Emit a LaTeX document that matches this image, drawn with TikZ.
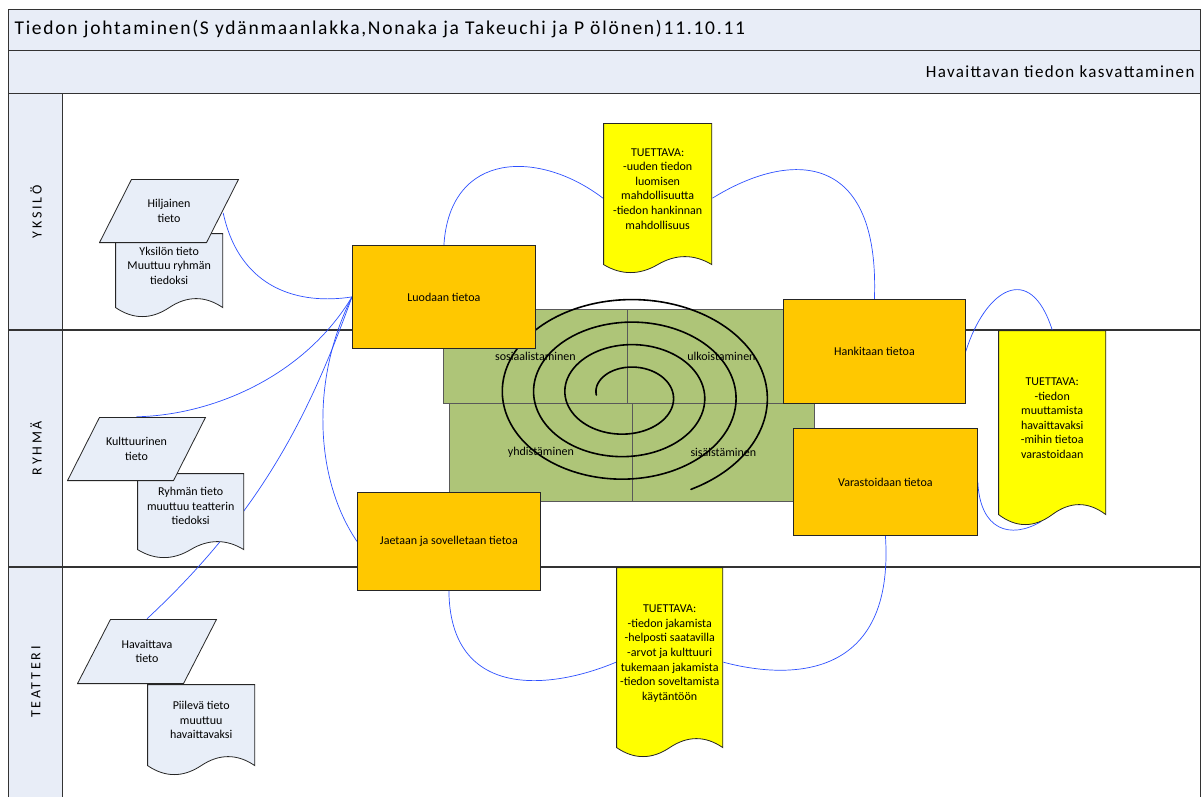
\documentclass[tikz,border=0pt]{standalone}
\usepackage{fontspec}
\setmainfont{Carlito}
\newfontfamily\titlefont[LetterSpace=9]{Carlito}
\newfontfamily\goalfont[LetterSpace=8]{Carlito}
\newfontfamily\lanefont[LetterSpace=20]{Carlito}
\usetikzlibrary{calc,backgrounds}
\definecolor{bandfill}{HTML}{E8EDF7}
\definecolor{paperfill}{HTML}{E8EEF8}
\definecolor{boxgold}{HTML}{FFC800}
\definecolor{notefill}{HTML}{FFFF00}
\definecolor{secigreen}{HTML}{AEC578}
\definecolor{linkblue}{HTML}{2E50FF}

\begin{document}
\begin{tikzpicture}[
  x=1pt,
  y=1pt,
  font=\fontsize{12}{14.6}\selectfont,
  band/.style={draw=black!80, line width=0.8pt, fill=bandfill},
  lane/.style={draw=black!80, line width=1.2pt},
  act/.style={draw=black!85, line width=0.8pt, fill=boxgold, inner sep=0pt, anchor=north west},
  quad/.style={draw=black!65, line width=0.8pt, fill=secigreen, inner sep=0pt, anchor=north west},
  knowl/.style={draw=none, inner sep=0pt, align=center,
    minimum width=140pt, minimum height=64pt,
    path picture={
      \path[draw=black!85, line width=0.8pt, fill=paperfill]
        let \p1=(path picture bounding box.north west),
            \p2=(path picture bounding box.south east)
        in (\x1+0.5pt+#1,\y1-0.4pt) -- (\x2-0.5pt,\y1-0.4pt)
        -- (\x2-0.5pt-#1,\y2+0.4pt) -- (\x1+0.5pt,\y2+0.4pt) -- cycle;
    }},
  paper/.style 2 args={draw=none, inner sep=0pt, align=center, anchor=north west,
    text depth=19pt,
    path picture={
      \path[draw=black!85, line width=0.8pt, fill=#1]
        let \p1=(path picture bounding box.north west),
            \p2=(path picture bounding box.south east)
        in (\x1+0.4pt,\y1-0.4pt) -- (\x2-0.4pt,\y1-0.4pt) -- (\x2-0.4pt,\y2+#2+0.6pt)
        .. controls ({\x2-(\x2-\x1)/6},{\y2+#2+0.6pt+4*#2/3}) and ({\x2-(\x2-\x1)/3},{\y2+#2+0.6pt+4*#2/3})
        .. ({(\x1+\x2)/2},{\y2+#2+0.6pt})
        .. controls ({\x1+(\x2-\x1)/3},{\y2+#2+0.6pt-4*#2/3}) and ({\x1+(\x2-\x1)/6},{\y2+#2+0.6pt-4*#2/3})
        .. (\x1+0.4pt,\y2+#2+0.6pt) -- cycle;
    }},
  link/.style={draw=linkblue, line width=0.7pt},
  spiral/.style={draw=black, line width=1.6pt, line cap=round},
]
  \useasboundingbox (0,0) rectangle (1202,-797);

  % frame: x of left edge, lane column, right edge; y of the band lines
  \def\xL{8}
  \def\xH{62}
  \def\xR{1200}
  \def\yT{9}
  \def\yA{50}
  \def\yB{93}
  \def\yC{330}
  \def\yD{567}
  \def\yE{805}

  \begin{pgfonlayer}{background}
    \path[band] (\xL,-\yT) rectangle (\xR,-\yA);
    \path[band] (\xL,-\yA) rectangle (\xR,-\yB);
    \path[band] (\xL,-\yB) rectangle (\xH,-\yE);
    \draw[band, fill=white] (\xH,-\yB) rectangle (\xR,-\yE);
    \draw[lane] (\xL,-\yC) -- (\xR,-\yC);
    \draw[lane] (\xL,-\yD) -- (\xR,-\yD);
  \end{pgfonlayer}

  \node[anchor=west, font=\titlefont\fontsize{19.5}{21}\selectfont] (title) at (11,-29.5)
    {Tiedon johtaminen(S ydänmaanlakka,Nonaka ja Takeuchi ja P ölönen)11.10.11};
  \node[anchor=east, font=\goalfont\fontsize{17}{20}\selectfont] (goal) at (1198,-72)
    {Havaittavan tiedon kasvattaminen};

  % lanes
  \node[rotate=90, font=\lanefont\fontsize{14}{16}\selectfont] (yksilo) at (36,-212) {YKSILÖ};
  \node[rotate=90, font=\lanefont\fontsize{14}{16}\selectfont] (ryhma) at (36,-448) {RYHMÄ};
  \node[rotate=90, font=\lanefont\fontsize{14}{16}\selectfont] (teatteri) at (36,-682) {TEATTERI};

  % knowledge forms on the left
  \node[paper={paperfill}{9pt}, minimum width=108pt, minimum height=84pt] (yks) at (115,-233)
    {Yksilön tieto\\Muuttuu ryhmän\\tiedoksi};
  \node[knowl=32pt] (hil) at (169,-211) {Hiljainen\\tieto};
  \node[paper={paperfill}{8pt}, minimum width=107pt, minimum height=85pt] (ryh) at (137,-473)
    {Ryhmän tieto\\muuttuu teatterin\\tiedoksi};
  \node[knowl=32pt, minimum width=139pt] (kul) at (136.5,-449) {Kulttuurinen\\tieto};
  \node[paper={paperfill}{9pt}, minimum width=108pt, minimum height=91pt] (pii) at (147,-684)
    {Piilevä tieto\\muuttuu\\havaittavaksi};
  \node[knowl=33pt, minimum height=65pt] (hav) at (147,-651.5) {Havaittava\\tieto};

  % SECI quadrants and spiral
  \node[quad, minimum width=184pt, minimum height=94pt] (sos) at (443,-309) {sosiaalistaminen};
  \node[quad, minimum width=188pt, minimum height=94pt] (ulk) at (627,-309) {ulkoistaminen};
  \node[quad, minimum width=183pt, minimum height=98pt] (yhd) at (449,-403) {yhdistäminen};
  \node[quad, minimum width=182pt, minimum height=98pt] (sis) at (632,-403) {sisäistäminen};
  \draw[spiral] plot[domain=180:1504, samples=320, smooth, variable=\t]
    ({627+(15+0.087*\t)*cos(\t)}, {-395-0.72*(15+0.087*\t)*sin(\t)});

  % activities
  \node[act, minimum width=183pt, minimum height=103pt] (luo) at (352,-245) {Luodaan tietoa};
  \node[act, minimum width=182pt, minimum height=104pt] (han) at (783,-299) {Hankitaan tietoa};
  \node[act, minimum width=184pt, minimum height=107pt] (var) at (793,-428) {Varastoidaan tietoa};
  \node[act, minimum width=183pt, minimum height=98pt] (jae) at (357,-492) {Jaetaan ja sovelletaan tietoa};

  % supporting notes
  \node[paper={notefill}{8pt}, minimum width=109pt, minimum height=150pt] (tu1) at (603,-123)
    {TUETTAVA:\\-uuden tiedon\\luomisen\\mahdollisuutta\\-tiedon hankinnan\\mahdollisuus};
  \node[paper={notefill}{10pt}, minimum width=108pt, minimum height=195pt] (tu2) at (998,-330)
    {TUETTAVA:\\-tiedon\\muuttamista\\havaittavaksi\\-mihin tietoa\\varastoidaan};
  \node[paper={notefill}{9pt}, minimum width=107pt, minimum height=190pt] (tu3) at (616,-567)
    {TUETTAVA:\\-tiedon jakamista\\-helposti saatavilla\\-arvot ja kulttuuri\\tukemaan jakamista\\-tiedon soveltamista\\käytäntöön};

  \begin{pgfonlayer}{background}
    \draw[link] ($(hil.east)+(-16,-2)$) .. controls (240,-290) and (300,-305) .. (luo.west);
    \draw[link] (luo.west) .. controls (305,-375) and (215,-415) .. (kul.north);
    \draw[link] (luo.west) .. controls (312,-407) and (266,-508) .. (hav.north);
    \draw[link] (luo.west) .. controls (310,-380) and (315,-480) .. (jae.west);
    \draw[link] (luo.north) .. controls (450,-150) and (540,-150) .. (tu1.west);
    \draw[link] (tu1.east) .. controls (790,-150) and (880,-150) .. (han.north);
    \draw[link] (han.east) .. controls (985,-290) and (1030,-260) .. (tu2.north);
    \draw[link] (var.east) .. controls (980,-530) and (1010,-540)
      .. ($(tu2.south west)!0.4!(tu2.south east)+(0,4)$);
    \draw[link] (var.south) .. controls (895,-680) and (790,-680) .. (tu3.east);
    \draw[link] (jae.south) .. controls (450,-700) and (550,-690) .. (tu3.west);
  \end{pgfonlayer}
\end{tikzpicture}
\end{document}
